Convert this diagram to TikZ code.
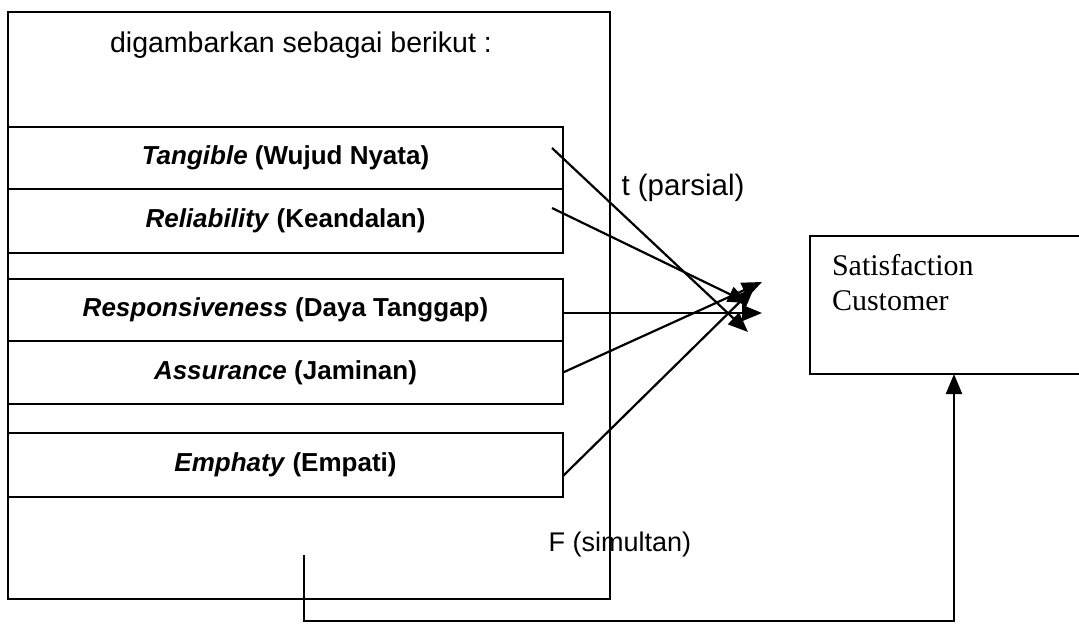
\documentclass[tikz,border=0pt]{standalone}
\usepackage{fontspec}
\setmainfont{Liberation Sans}
\newfontfamily\serifcust{Liberation Serif}
\usetikzlibrary{arrows.meta,calc}
\begin{document}
\begin{tikzpicture}[x=1pt,y=-1pt,
  every node/.style={inner sep=0pt, outer sep=0pt},
  frame/.style={draw, line width=2.2pt},
  dimbox/.style={draw, line width=2.2pt, anchor=north west, minimum width=555pt, font=\fontsize{26}{30}\selectfont\bfseries},
  lbl/.style={font=\fontsize{28.5}{32}\selectfont},
  arr/.style={line width=2.2pt, -{Triangle[length=20pt,width=16pt]}}]
\useasboundingbox (0,0) rectangle (1079,624);
\fill[white] (0,0) rectangle (1079,624);
% outer frame
\node[frame, anchor=north west, minimum width=602pt, minimum height=587pt] (outer) at (8,12) {};
\node[lbl] (head) at (301,45) {digambarkan sebagai berikut :};
% dimension boxes
\node[dimbox, minimum height=62pt] (tang) at (8,127) {\textit{Tangible} (Wujud Nyata)};
\node[dimbox, minimum height=64pt] (rel) at (8,189) {\textit{Reliability} (Keandalan)};
\node[dimbox, minimum height=62pt] (resp) at (8,279) {\textit{Responsiveness} (Daya Tanggap)};
\node[dimbox, minimum height=63pt] (assu) at (8,341) {\textit{Assurance} (Jaminan)};
\node[dimbox, minimum height=64pt] (emp) at (8,433) {\textit{Emphaty} (Empati)};
% target box
\node[frame, anchor=north west, minimum width=290pt, minimum height=138pt] (sat) at (810,236) {};
\node[anchor=north west, align=left, font=\serifcust\fontsize{30}{35}\selectfont] (sattext) at (832,254) {Satisfaction\\Customer};
% labels
\node[lbl, font=\fontsize{29.5}{32}\selectfont] (tpar) at (683,188) {t (parsial)};
\node[lbl, font=\fontsize{27}{32}\selectfont] (fsim) at (620,545) {F (simultan)};
% arrow ends
\coordinate (tEnd) at (748,332);
\coordinate (rEnd) at (748,303);
\coordinate (spEnd) at (762,313);
\coordinate (aEnd) at (762,282);
\coordinate (eEnd) at (754,288);
\draw[arr] ($(tang.east)+(-11,-10)$) -- (tEnd);
\draw[arr] ($(rel.east)+(-11,-13)$) -- (rEnd);
\draw[arr] ($(resp.east)+(0,3)$) -- (spEnd);
\draw[arr] (assu.east) -- (aEnd);
\draw[arr] ($(emp.east)+(0,11)$) -- (eEnd);
% simultaneous connector
\coordinate (fstart) at (304,555);
\coordinate (fcorner) at (304,621);
\coordinate (satin) at (954,374);
\draw[arr] (fstart) -- (fcorner) -| (satin);
\end{tikzpicture}
\end{document}
